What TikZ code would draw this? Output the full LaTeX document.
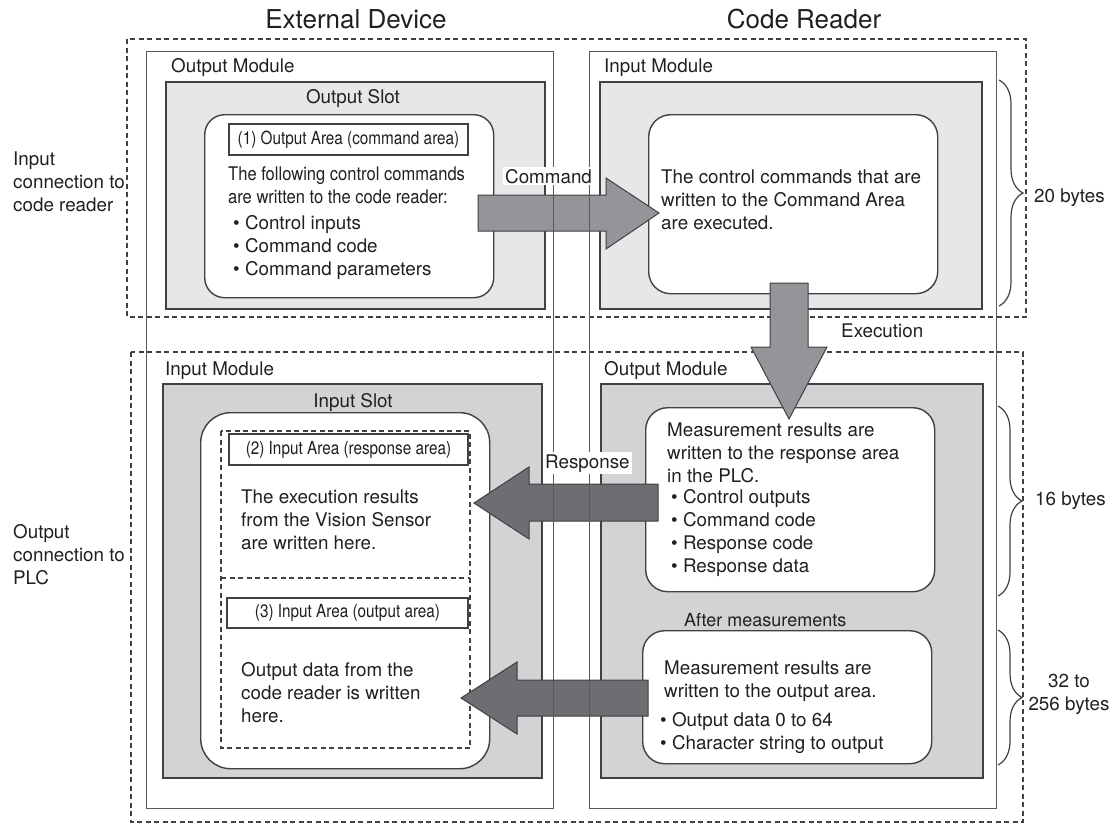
\documentclass[tikz,border=0pt]{standalone}
\usepackage{fontspec}
\setmainfont{TeX Gyre Heros}
\newfontfamily\narrowfont{TeX Gyre Heros}[FakeStretch=0.85]
\newfontfamily\condfont{TeX Gyre Heros}[FakeStretch=0.88]
\usepackage{tikz}
\usetikzlibrary{positioning,calc,decorations.pathreplacing}
\definecolor{lineC}{HTML}{414042}
\definecolor{boxC}{HTML}{58595B}
\definecolor{txtC}{HTML}{231F20}
\definecolor{slotA}{HTML}{E6E7E8}
\definecolor{slotB}{HTML}{D1D3D4}
\definecolor{arrA}{HTML}{939598}
\definecolor{arrB}{HTML}{6D6E71}

\begin{document}
\begin{tikzpicture}[x=1pt, y=-1pt,
  grp/.style={draw=lineC, line width=1.2pt, dash pattern=on 5pt off 3.5pt},
  colbox/.style={draw=boxC, line width=1.4pt, anchor=north west, inner sep=0pt,
    minimum width=407pt, minimum height=757pt},
  slot/.style={draw=lineC, line width=2pt, anchor=north west, inner sep=0pt},
  area/.style={draw=lineC, line width=1.4pt, fill=white, rounded corners=22pt,
    anchor=north west, inner sep=0pt, minimum width=289pt},
  tag/.style={draw=lineC, line width=1.3pt, fill=white, text=txtC, inner sep=0pt,
    font=\narrowfont\fontsize{18}{20}\selectfont, minimum height=31pt},
  txt/.style={font=\fontsize{18.8}{22.7}\selectfont, text=txtC, inner sep=0pt,
    anchor=base west, align=left},
  hdr/.style={font=\fontsize{26}{30}\selectfont, text=txtC, inner sep=0pt, anchor=base},
  flag/.style={txt, fill=white, inner sep=2pt},
  blkL/.style={draw=lineC, line width=1pt, fill=arrA},
  blkD/.style={draw=lineC, line width=1pt, fill=arrB},
  brc/.style={draw=lineC, line width=1.2pt, decorate, decoration={brace, amplitude=24pt}}
]
\useasboundingbox (0,0) rectangle (1116,823);

\draw[grp] (127,39) rectangle (1026,317);
\draw[grp] (131,352) rectangle (1023,822);

\node[slot, fill=slotA, minimum width=379pt, minimum height=227pt] (oslot) at (165,81) {};
\node[slot, fill=slotA, minimum width=382pt, minimum height=227pt] (imod) at (599,81) {};
\node[slot, fill=slotB, minimum width=379pt, minimum height=394pt] (islot) at (162,383) {};
\node[slot, fill=slotB, minimum width=382pt, minimum height=394pt] (omod) at (600,383) {};

\node[area, rounded corners=20pt, minimum height=183pt] (cmdA) at (204,114) {};
\node[area, minimum height=179pt] (exeA) at (648,114) {};
\node[area, rounded corners=30pt, minimum height=356pt] (rspA) at (200,412) {};
\node[area, minimum height=184pt] (resA) at (645,407) {};
\node[area, minimum height=133pt] (outA) at (642,630) {};

\draw[grp] (221,431) rectangle (470,748);
\draw[grp] (221,578) -- (470,578);

\node[tag, minimum width=239pt] (tag1) at (348.5,139.5) {(1) Output Area (command area)};
\node[tag, minimum width=239pt] (tag2) at (348.5,449.5) {(2) Input Area (response area)};
\node[tag, minimum width=241pt, minimum height=30pt] (tag3) at (347.5,613) {(3) Input Area (output area)};

\node[txt] (lmod1) at (171,72) {Output Module};
\node[txt] (rmod1) at (604,72) {Input Module};
\node[txt] (lmod2) at (165,375) {Input Module};
\node[txt] (rmod2) at (604,375) {Output Module};
\node[txt, anchor=base] (oslotT) at (353,103) {Output Slot};
\node[txt, anchor=base] (islotT) at (353,407) {Input Slot};

\node[txt] (cmdT) at (228,203) {{\condfont The following control commands}\\{\condfont are written to the code reader:}};
\node[txt] (cmdL) at (233,275) {• Control inputs\\• Command code\\• Command parameters};
\node[txt] (exeT) at (661,229) {The control commands that are\\written to the Command Area\\are executed.};
\node[txt] (rspT) at (241,549) {The execution results\\from the Vision Sensor\\are written here.};
\node[txt] (outT) at (241,722) {Output data from the\\code reader is written\\here.};
\node[txt] (resT) at (667,482) {Measurement results are\\written to the response area\\in the PLC.};
\node[txt] (resL) at (671,572) {• Control outputs\\• Command code\\• Response code\\• Response data};
\node[txt, font=\fontsize{18}{22}\selectfont] (afterT) at (684,626) {After measurements};
\node[txt] (orsT) at (664,697) {Measurement results are\\written to the output area.};
\node[txt] (orsL) at (660,749) {• Output data 0 to 64\\• Character string to output};

\coordinate (cmdS) at (478,213);
\coordinate (cmdE) at (659,213);
\draw[blkL] (cmdS) ++(0,-18) -- ++(128,0) -- ++(0,-17) -- (cmdE) -- ++(-53,36) -- ++(0,-18) -- ++(-128,0) -- cycle;
\coordinate (exeS) at (789,283);
\coordinate (exeE) at (789,419);
\draw[blkL] (exeS) ++(-19,0) -- ++(0,64) -- ++(-19,0) -- (exeE) -- ++(38,-72) -- ++(-19,0) -- ++(0,-64) -- cycle;
\coordinate (rspS) at (658,503);
\coordinate (rspE) at (474,503);
\draw[blkD] (rspS) ++(0,-19) -- ++(-129,0) -- ++(0,-17) -- (rspE) -- ++(55,36) -- ++(0,-18) -- ++(129,0) -- cycle;
\coordinate (outS) at (648,698);
\coordinate (outE) at (461,698);
\draw[blkD] (outS) ++(0,-18) -- ++(-131,0) -- ++(0,-18) -- (outE) -- ++(56,36) -- ++(0,-18) -- ++(131,0) -- cycle;

\node[colbox] (devcol) at (146,51) {};
\node[colbox] (rdrcol) at (589,51) {};

\node[flag] (cmdF) at (503,183) {Command};
\node[flag] (rspF) at (543,468) {Response};
\node[txt] (exeF) at (841,337) {Execution};

\draw[brc] (999,80) -- (999,306);
\draw[brc] (998,406) -- (998,596);
\draw[brc] (998,630) -- (998,765);
\node[txt] (b20) at (1034,202) {20 bytes};
\node[txt] (b16) at (1035,505) {16 bytes};
\node[txt, anchor=base, align=center] (b32) at (1069,710) {32 to\\256 bytes};

\node[txt] (inC) at (13,211) {Input\\connection to\\code reader};
\node[txt] (outC) at (13,584) {Output\\connection to\\PLC};

\node[hdr] (devH) at (356,28) {External Device};
\node[hdr] (rdrH) at (804,28) {Code Reader};
\end{tikzpicture}
\end{document}
